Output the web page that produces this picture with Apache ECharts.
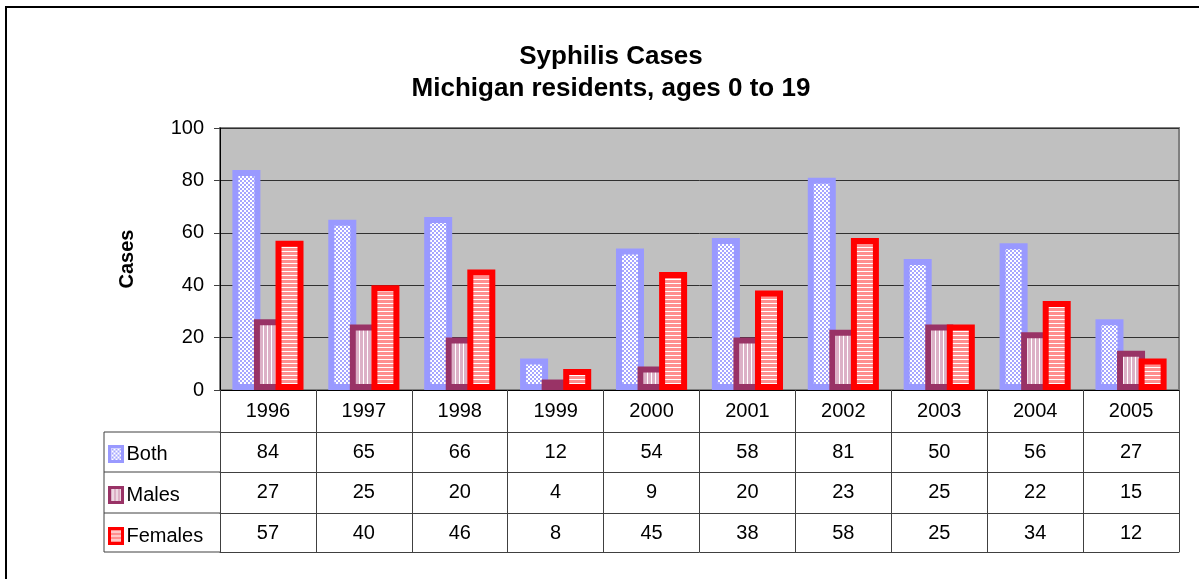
<!DOCTYPE html>
<html>
<head>
<meta charset="utf-8">
<script src="https://cdn.jsdelivr.net/npm/echarts@6/dist/echarts.min.js"></script>
<style>
  html, body { margin: 0; padding: 0; background: #fff; }
  #chart { width: 1199px; height: 579px; }
</style>
</head>
<body>
<div id="chart"></div>
<script>
// 数据
const years = ['1996', '1997', '1998', '1999', '2000', '2001', '2002', '2003', '2004', '2005']
const both = [84, 65, 66, 12, 54, 58, 81, 50, 56, 27]
const males = [27, 25, 20, 4, 9, 20, 23, 25, 22, 15]
const females = [57, 40, 46, 8, 45, 38, 58, 25, 34, 12]
const yTicks = [0, 20, 40, 60, 80, 100]

const FONT = 'Arial, "Liberation Sans", sans-serif'
const LINE = '#404040'

// 填充图案（模仿 Excel 的纹理填充）
function makePattern(w, h, draw) {
  const c = document.createElement('canvas')
  c.width = w
  c.height = h
  const ctx = c.getContext('2d')
  ctx.fillStyle = '#ffffff'
  ctx.fillRect(0, 0, w, h)
  draw(ctx)
  return { image: c, repeat: 'repeat' }
}
const bothFill = makePattern(4, 4, (ctx) => {
  ctx.fillStyle = '#a6a6ff'
  ctx.fillRect(0, 0, 2, 2)
  ctx.fillRect(2, 2, 2, 2)
})
const malesFill = makePattern(4, 4, (ctx) => {
  ctx.fillStyle = '#dcb0c6'
  ctx.fillRect(0, 0, 3, 4)
})
const femalesFill = makePattern(4, 4, (ctx) => {
  ctx.fillStyle = '#ff8f8f'
  ctx.fillRect(0, 0, 4, 3)
})

// 表格行的横轴
const rowAxis = (values, offset, tickLen) => ({
  type: 'category',
  data: years,
  position: 'bottom',
  offset: offset,
  axisLine: { onZero: false, lineStyle: { color: LINE, width: 1 } },
  axisTick: { show: tickLen > 0, length: tickLen, interval: 0, lineStyle: { color: LINE } },
  axisLabel: {
    show: !!values,
    interval: 0,
    margin: 10,
    fontSize: 20,
    color: '#000',
    fontFamily: FONT,
    formatter: (v, i) => (values ? String(values[i]) : ''),
  },
  splitLine: { show: false },
})

const option = {
  animation: false,
  textStyle: { fontFamily: FONT },
  title: {
    text: 'Syphilis Cases\nMichigan residents, ages 0 to 19',
    left: 606,
    textAlign: 'center',
    top: 36,
    textStyle: { fontSize: 26, fontWeight: 'bold', color: '#000', lineHeight: 32, fontFamily: FONT },
  },
  grid: {
    left: 220,
    right: 20,
    top: 128,
    bottom: 189,
    show: true,
    backgroundColor: '#c0c0c0',
    borderColor: '#808080',
    borderWidth: 2,
  },
  legend: {
    orient: 'vertical',
    left: 108,
    top: 444,
    padding: 0,
    icon: 'rect',
    itemWidth: 13,
    itemHeight: 15,
    itemGap: 21,
    textStyle: { fontSize: 20, color: '#000', fontFamily: FONT, padding: [0, 0, 0, -1] },
    data: [
      { name: 'Both', itemStyle: { borderWidth: 3 } },
      { name: 'Males', itemStyle: { borderWidth: 3 } },
      { name: 'Females', itemStyle: { borderWidth: 3 } },
    ],
  },
  xAxis: [
    {
      type: 'category',
      data: years,
      position: 'bottom',
      axisLine: { onZero: false, lineStyle: { color: '#000', width: 1 } },
      axisTick: { show: true, length: 42, interval: 0, lineStyle: { color: LINE } },
      axisLabel: { interval: 0, margin: 11, fontSize: 20, color: '#000', fontFamily: FONT },
    },
    rowAxis(both, 42, 40),
    rowAxis(males, 82, 41),
    rowAxis(females, 123, 39),
    rowAxis(null, 162, 0),
  ],
  yAxis: {
    type: 'value',
    min: yTicks[0],
    max: yTicks[yTicks.length - 1],
    interval: 20,
    name: 'Cases',
    nameLocation: 'middle',
    nameGap: 83,
    nameTextStyle: { fontSize: 20, fontWeight: 'bold', color: '#000', fontFamily: FONT },
    axisLine: { show: true, lineStyle: { color: '#000', width: 1 } },
    axisTick: { show: true, length: 6, lineStyle: { color: LINE } },
    axisLabel: { fontSize: 20, color: '#000', margin: 16, fontFamily: FONT },
    splitLine: { lineStyle: { color: '#303030', width: 1 } },
  },
  series: [
    {
      name: 'Both',
      type: 'bar',
      data: both,
      barWidth: 28,
      barGap: '-23%',
      itemStyle: { color: bothFill, borderColor: '#9999ff', borderWidth: 6 },
    },
    {
      name: 'Males',
      type: 'bar',
      data: males,
      barWidth: 28,
      barGap: '-23%',
      itemStyle: { color: malesFill, borderColor: '#993366', borderWidth: 6 },
    },
    {
      name: 'Females',
      type: 'bar',
      data: females,
      barWidth: 28,
      barGap: '-23%',
      itemStyle: { color: femalesFill, borderColor: '#ff0000', borderWidth: 6 },
    },
  ],
  graphic: [
    // 外框
    { type: 'rect', shape: { x: 6, y: 7, width: 1260, height: 700 }, style: { fill: 'none', stroke: '#000', lineWidth: 2 }, silent: true },
    // 表格左侧图例列的线
    { type: 'line', shape: { x1: 104, y1: 432, x2: 220, y2: 432 }, style: { stroke: LINE, lineWidth: 1 } },
    { type: 'line', shape: { x1: 104, y1: 472, x2: 220, y2: 472 }, style: { stroke: LINE, lineWidth: 1 } },
    { type: 'line', shape: { x1: 104, y1: 513, x2: 220, y2: 513 }, style: { stroke: LINE, lineWidth: 1 } },
    { type: 'line', shape: { x1: 104, y1: 552, x2: 220, y2: 552 }, style: { stroke: LINE, lineWidth: 1 } },
    { type: 'line', shape: { x1: 104, y1: 432, x2: 104, y2: 552 }, style: { stroke: LINE, lineWidth: 1 } },
  ],
}

const myChart = echarts.init(document.getElementById('chart'))
myChart.setOption(option)
</script>
</body>
</html>
